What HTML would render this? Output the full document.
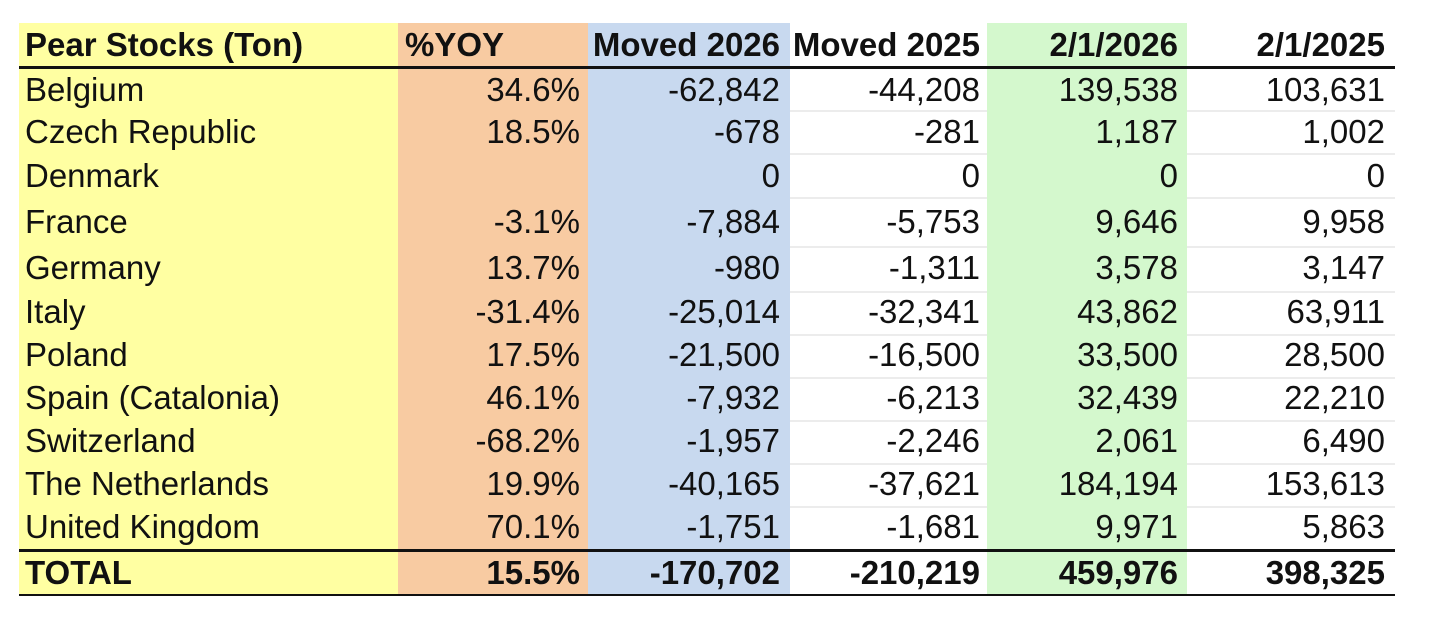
<!DOCTYPE html>
<html><head><meta charset="utf-8"><style>
body{margin:0;width:1448px;height:628px;background:#fff;position:relative;overflow:hidden;font-family:"Liberation Sans",Arial,sans-serif;color:#111}
.bg{position:absolute;top:23px;height:573px}
.t{position:absolute;font-size:33px;line-height:40px;white-space:nowrap}
.r{text-align:right}
.b{font-weight:bold}
.hl{position:absolute;left:790px;width:197px;height:2px;background:#ececec}
.hl2{position:absolute;left:1187px;width:208px;height:2px;background:#ececec}
</style></head><body>
<div class="bg" style="left:19px;width:379px;background:#ffffa2"></div>
<div class="bg" style="left:398px;width:190px;background:#f8cba2"></div>
<div class="bg" style="left:588px;width:202px;background:#c8d9ef"></div>
<div class="bg" style="left:987px;width:200px;background:#d4f8cd"></div>
<div style="position:absolute;left:19px;width:1376px;top:66px;height:3px;background:#111"></div>
<div style="position:absolute;left:19px;width:1376px;top:549px;height:3px;background:#111"></div>
<div style="position:absolute;left:19px;width:1376px;top:594px;height:2px;background:#111"></div>
<div id="rows"></div>
<script>
const rows=[
["Pear Stocks (Ton)","%YOY","Moved 2026","Moved 2025","2/1/2026","2/1/2025",45,1],
["Belgium","34.6%","-62,842","-44,208","139,538","103,631",90,0],
["Czech Republic","18.5%","-678","-281","1,187","1,002",132,0],
["Denmark","","0","0","0","0",176,0],
["France","-3.1%","-7,884","-5,753","9,646","9,958",222,0],
["Germany","13.7%","-980","-1,311","3,578","3,147",268,0],
["Italy","-31.4%","-25,014","-32,341","43,862","63,911",312,0],
["Poland","17.5%","-21,500","-16,500","33,500","28,500",355,0],
["Spain (Catalonia)","46.1%","-7,932","-6,213","32,439","22,210",398,0],
["Switzerland","-68.2%","-1,957","-2,246","2,061","6,490",441,0],
["The Netherlands","19.9%","-40,165","-37,621","184,194","153,613",484,0],
["United Kingdom","70.1%","-1,751","-1,681","9,971","5,863",527,0],
["TOTAL","15.5%","-170,702","-210,219","459,976","398,325",573,1]];
const rights=[580,780,980,1178,1385];
let h="";
const bounds=[110,153,197,246,291,334,377,420,463,506];
bounds.forEach(y=>{h+=`<div class="hl" style="top:${y}px"></div><div class="hl2" style="top:${y}px"></div>`});
rows.forEach((r,i)=>{const y=r[6]-20,b=r[7]?" b":"";
h+=`<div class="t${b}" style="left:25px;top:${y}px">${r[0]}</div>`;
if(i==0){h+=`<div class="t b" style="left:405px;top:${y}px">${r[1]}</div>`;}
for(let c=(i==0?2:1);c<6;c++){h+=`<div class="t r${b}" style="right:${1448-rights[c-1]}px;top:${y}px">${r[c]}</div>`;}
});
document.getElementById("rows").innerHTML=h;
</script>
</body></html>
